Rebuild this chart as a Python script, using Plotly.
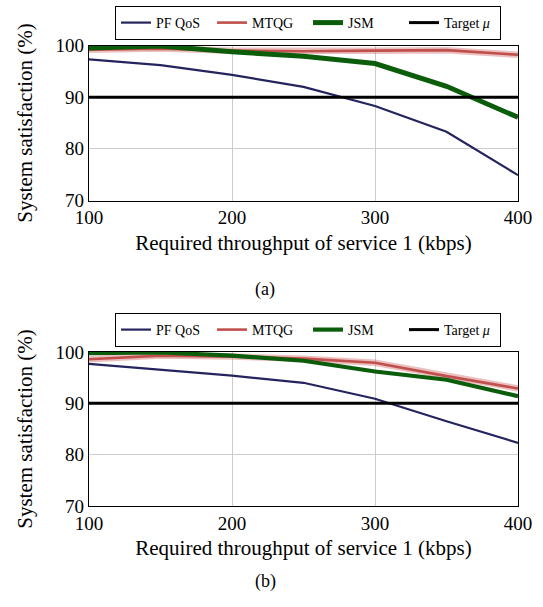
import plotly.graph_objects as go

x_kbps = [100, 150, 200, 250, 300, 350, 400]

# (a)
pf_a = [97.3, 96.2, 94.3, 92.0, 88.3, 83.3, 74.9]
mtqg_a = [99.2, 99.4, 99.0, 98.9, 99.0, 99.1, 98.2]
jsm_a = [99.5, 99.9, 98.8, 97.9, 96.5, 92.1, 86.1]

# (b)
pf_b = [97.7, 96.6, 95.4, 94.0, 90.9, 86.5, 82.3]
mtqg_b = [98.6, 99.3, 99.1, 98.7, 97.9, 95.3, 92.9]
jsm_b = [99.8, 99.9, 99.3, 98.3, 96.2, 94.6, 91.4]

target_mu = 90
target_x = [100, 400]

x_ticks = [100, 200, 300, 400]
y_ticks = [70, 80, 90, 100]
series_names = ["PF QoS", "MTQG", "JSM", "Target <i>μ</i>"]

C_PF = "#24245e"
C_MT = "#c0504d"
C_MT_BAND = "rgba(210,115,110,0.45)"
C_JSM = "#0b5d0b"
C_T = "#000000"

FONT = "Liberation Serif"

fig = go.Figure()

def add_panel(xa, ya, legend, pf, mt, jsm, jsm_w):
    fig.add_trace(go.Scatter(x=x_kbps, y=pf, mode="lines", name=series_names[0],
                             line=dict(color=C_PF, width=2.2), xaxis=xa, yaxis=ya, legend=legend))
    fig.add_trace(go.Scatter(x=x_kbps, y=mt, mode="lines", name=series_names[1], showlegend=False,
                             line=dict(color=C_MT_BAND, width=6.5), xaxis=xa, yaxis=ya, legend=legend,
                             hoverinfo="skip"))
    fig.add_trace(go.Scatter(x=x_kbps, y=mt, mode="lines", name=series_names[1],
                             line=dict(color=C_MT, width=2.6), xaxis=xa, yaxis=ya, legend=legend))
    fig.add_trace(go.Scatter(x=x_kbps, y=jsm, mode="lines", name=series_names[2],
                             line=dict(color=C_JSM, width=jsm_w), xaxis=xa, yaxis=ya, legend=legend))
    fig.add_trace(go.Scatter(x=target_x, y=[target_mu] * len(target_x), mode="lines", name=series_names[3],
                             line=dict(color=C_T, width=3), xaxis=xa, yaxis=ya, legend=legend))

add_panel("x", "y", "legend", pf_a, mtqg_a, jsm_a, 5.0)
add_panel("x2", "y2", "legend2", pf_b, mtqg_b, jsm_b, 4.2)

W, H = 543, 607
xd = [89 / W, 518 / W]
yd_a = [1 - 200.5 / H, 1 - 45.5 / H]
yd_b = [1 - 506 / H, 1 - 352 / H]

axis_common = dict(
    showline=True, linecolor="black", linewidth=1.2, mirror=True,
    showgrid=True, gridcolor="#cccccc", gridwidth=1.2,
    zeroline=False, ticks="", automargin=False,
    tickfont=dict(family=FONT, size=19, color="black"),
)

xtitle = dict(text="Required throughput of service 1 (kbps)", font=dict(family=FONT, size=21, color="black"), standoff=7)
ytitle = dict(text="System satisfaction (%)", font=dict(family=FONT, size=21, color="black"), standoff=17)

leg_common = dict(orientation="h", x=308 / W, xanchor="center", yanchor="top",
                  bordercolor="black", borderwidth=1, bgcolor="white",
                  font=dict(family=FONT, size=14, color="black"), entrywidth=51,
                  entrywidthmode="pixels")

fig.update_layout(
    width=W, height=H,
    margin=dict(l=0, r=0, t=0, b=0),
    paper_bgcolor="white", plot_bgcolor="white",
    font=dict(family=FONT, color="black", size=18),
    xaxis=dict(domain=xd, anchor="y", range=[100, 400], tickvals=x_ticks, title=xtitle, **axis_common),
    yaxis=dict(domain=yd_a, anchor="x", range=[70, 100], tickvals=y_ticks, title=ytitle, **axis_common),
    xaxis2=dict(domain=xd, anchor="y2", range=[100, 400], tickvals=x_ticks, title=xtitle, **axis_common),
    yaxis2=dict(domain=yd_b, anchor="x2", range=[70, 100], tickvals=y_ticks, title=ytitle, **axis_common),
    legend=dict(y=1 - 6 / H, **leg_common),
    legend2=dict(y=1 - 313 / H, **leg_common),
    showlegend=True,
    annotations=[
        dict(text="(a)", x=265 / W, y=1 - 289 / H, xref="paper", yref="paper", showarrow=False,
             font=dict(family=FONT, size=18, color="black")),
        dict(text="(b)", x=265 / W, y=1 - 594 / H, xref="paper", yref="paper", showarrow=False,
             font=dict(family=FONT, size=18, color="black")),
    ],
)

fig.write_html("out.html",
               config={"displayModeBar": False},
               post_script="document.body.style.margin='0';document.body.style.overflow='hidden';")
